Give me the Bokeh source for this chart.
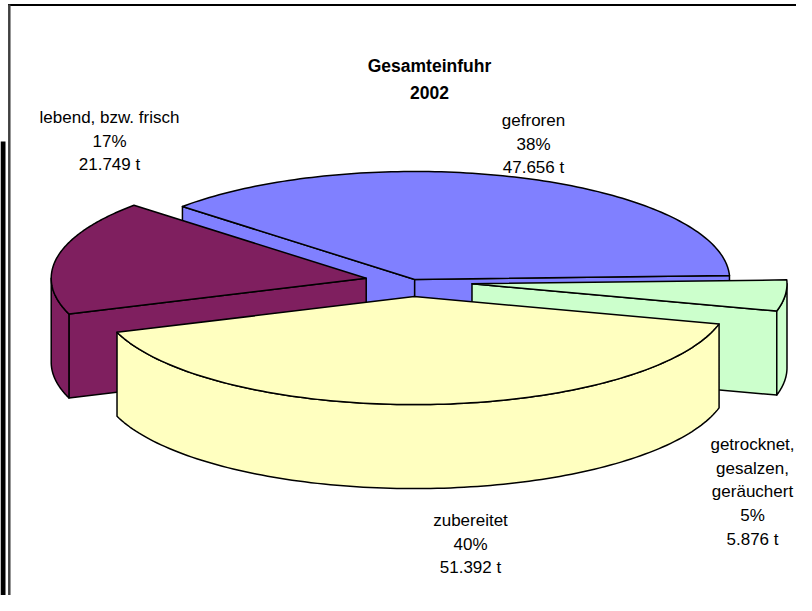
import numpy as np
from bokeh.plotting import figure
from bokeh.models import Range1d, ColumnDataSource
from bokeh.core.properties import value
from bokeh.embed import file_html
from bokeh.resources import INLINE

# ---------------- data ----------------
title_lines = ["Gesamteinfuhr", "2002"]
categories = ["gefroren", "getrocknet, gesalzen, geräuchert", "zubereitet", "lebend, bzw. frisch"]
category_lines = [["gefroren"], ["getrocknet,", "gesalzen,", "geräuchert"], ["zubereitet"], ["lebend, bzw. frisch"]]
tonnes = [47656, 5876, 51392, 21749]
percent_labels = ["38%", "5%", "40%", "17%"]

# ---------------- style / layout ----------------
colors = ["#8080FF", "#CCFFCC", "#FFFFC0", "#7F1F5F"]
explode = [0.02, 0.19, 0.14, 0.15]          # explosion as fraction of radius
label_anchor = [(533, 120), (752, 444), (470, 520), (109, 117)]  # px of first label line
LINE_STEP = 23.7
CX, CY = 412.0, 281.0     # pie centre (px)
A, B = 315.0, 108.0       # ellipse semi axes
DEPTH = 84.0
START = -47.5             # degrees clockwise from 12 o'clock
FONT = value("Liberation Sans")

W, H = 796, 595
p = figure(width=W, height=H, x_range=Range1d(0, W), y_range=Range1d(H, 0),
           output_backend="svg", toolbar_location=None, min_border=0,
           x_axis_location=None, y_axis_location=None, outline_line_color=None,
           background_fill_color="white", border_fill_color="white")
p.grid.visible = False

total = float(sum(tonnes))
angles = [v / total * 360.0 for v in tonnes]
starts = list(START + np.concatenate([[0], np.cumsum(angles)[:-1]]))
ends = [s + a for s, a in zip(starts, angles)]


def arc(ox, oy, a0, a1, n=120, dy=0.0):
    t = np.radians(np.linspace(a0, a1, n))
    return list(ox + A * np.sin(t)), list(oy - B * np.cos(t) + dy)


def slice_faces(i):
    s, e = starts[i], ends[i]
    mid = np.radians((s + e) / 2.0)
    ox = CX + explode[i] * A * np.sin(mid)
    oy = CY - explode[i] * B * np.cos(mid)
    xs, ys = [], []
    if np.sin(np.radians(s)) < 0:
        px, py = arc(ox, oy, s, s, 1)
        xs.append([ox, px[0], px[0], ox])
        ys.append([oy, py[0], py[0] + DEPTH, oy + DEPTH])
    if np.sin(np.radians(e)) > 0:
        px, py = arc(ox, oy, e, e, 1)
        xs.append([ox, px[0], px[0], ox])
        ys.append([oy, py[0], py[0] + DEPTH, oy + DEPTH])
    for k in (-360, 0, 360):
        lo, hi = max(s, 90 + k), min(e, 270 + k)
        if hi > lo:
            tx, ty = arc(ox, oy, lo, hi)
            bx, by = arc(ox, oy, lo, hi, dy=DEPTH)
            xs.append(tx + bx[::-1])
            ys.append(ty + by[::-1])
    tx, ty = arc(ox, oy, s, e)
    xs.append([ox] + tx + [ox])
    ys.append([oy] + ty + [oy])
    return xs, ys


order = sorted(range(len(tonnes)),
               key=lambda i: -np.cos(np.radians((starts[i] + ends[i]) / 2.0)))
for i in order:
    xs, ys = slice_faces(i)
    p.patches(xs=xs, ys=ys, fill_color=colors[i], line_color="black",
              line_width=1.5, line_join="round")

lx, ly, lt = [], [], []
for i in range(len(tonnes)):
    lines = category_lines[i] + [percent_labels[i], f"{tonnes[i]:,}".replace(",", ".") + " t"]
    x0, y0 = label_anchor[i]
    for k, t in enumerate(lines):
        lx.append(x0)
        ly.append(y0 + k * LINE_STEP)
        lt.append(t)
p.text(x="x", y="y", text="t", source=ColumnDataSource(dict(x=lx, y=ly, t=lt)),
       text_font=FONT, text_font_size="17px", text_align="center",
       text_baseline="middle", text_color="black")

p.text(x=[429, 429], y=[65, 92], text=title_lines, text_font=FONT,
       text_font_size="17.5px", text_font_style="bold", text_align="center",
       text_baseline="middle", text_color="black")

# chart frame pieces
p.line(x=[7.5, W], y=[4.5, 4.5], line_color="black", line_width=2)
p.line(x=[8.8, 8.8], y=[4, H], line_color="#404040", line_width=2.5)
p.quad(left=[0], right=[5], top=[141], bottom=[603], fill_color="black", line_color=None)

open("out.html", "w").write(file_html(p, INLINE))
